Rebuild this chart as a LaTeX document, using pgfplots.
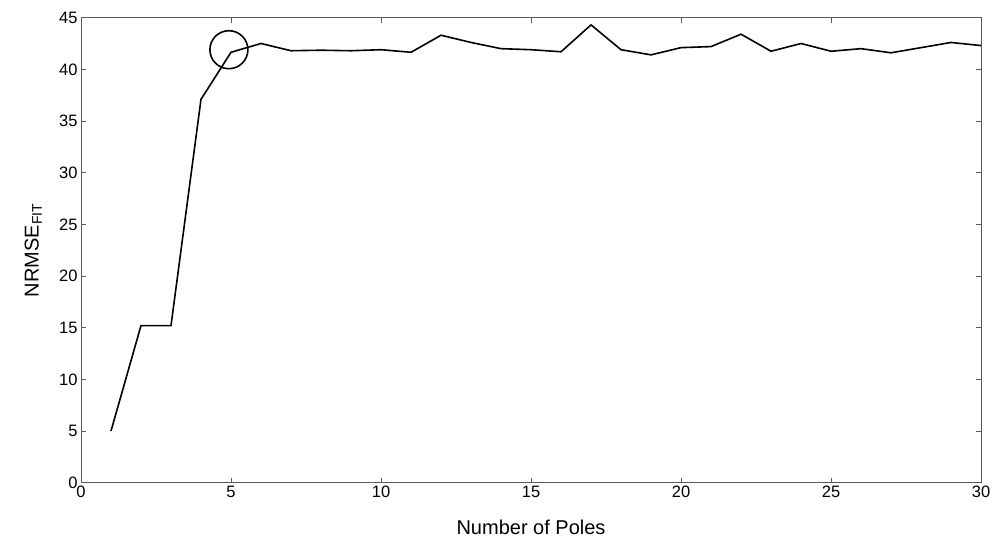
\documentclass[border=0pt]{standalone}
\usepackage{fontspec}
\setmainfont{Liberation Sans}
\usepackage{pgfplots}
\pgfplotsset{compat=1.18}

\begin{document}
\begin{tikzpicture}
\begin{axis}[
	scale only axis,
	width=900pt, height=465pt,
	xmin=0, xmax=30, ymin=0, ymax=45,
	xtick={0,5,...,30}, ytick={0,5,...,45},
	tick align=inside, major tick length=5pt,
	tick style={gray!70!black, line width=0.6pt},
	axis line style={gray!70!black, line width=0.9pt},
	ticklabel style={font=\fontsize{16.5}{18}\selectfont},
	/pgf/number format/assume math mode=true,
	xlabel={Number of Poles},
	ylabel={NRMSE\textsubscript{FIT}},
	label style={font=\fontsize{20}{22}\selectfont},
	xlabel style={at={(axis description cs:0.5,-0.095)}, anchor=center},
	ylabel style={at={(axis description cs:-0.053,0.5)}, anchor=center},
	clip=false,
]
% NRMSE fit vs number of poles
\addplot[black, line width=1.6pt, mark=none] coordinates {
	(1,5.0) (2,15.2) (3,15.2) (4,37.1) (5,41.65)
	(6,42.5) (7,41.8) (8,41.85) (9,41.8) (10,41.9)
	(11,41.65) (12,43.3) (13,42.6) (14,42.0) (15,41.9)
	(16,41.7) (17,44.3) (18,41.9) (19,41.4) (20,42.1)
	(21,42.2) (22,43.4) (23,41.75) (24,42.5) (25,41.75)
	(26,42.0) (27,41.6) (28,42.1) (29,42.6) (30,42.3)
};
% circled point
\addplot[black, line width=1.6pt, only marks, mark=o, mark size=19pt] coordinates {(4.93,41.9)};
\path (rel axis cs:-0.09,-0.1146) -- (rel axis cs:1.0144,1.038);
\end{axis}
\end{tikzpicture}
\end{document}
